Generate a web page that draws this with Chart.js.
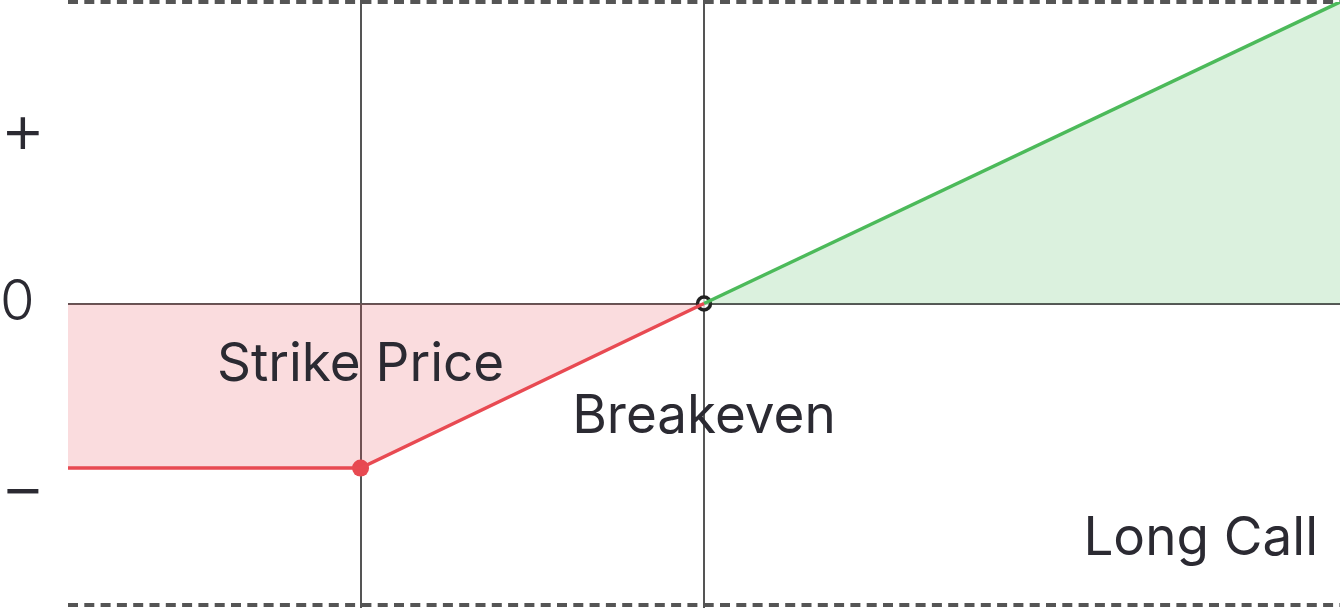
<!DOCTYPE html>
<html>
<head>
<meta charset="utf-8">
<script src="https://cdn.jsdelivr.net/npm/chart.js@4"></script>
<style>
  body { margin: 0; background: #fff; }
  #wrap { width: 1340px; height: 608px; }
</style>
</head>
<body>
<div id="wrap"><canvas id="payoff"></canvas></div>
<script>
// long call payoff, price on x (0..100), profit/loss on y (-1..1)
const strikePrice = 23;
const breakeven = 50;
const lossX = [0, 23, 50];
const lossY = [-0.546, -0.546, 0];
const gainX = [50, 100];
const gainY = [0, 1];
const yTickValues = [0.57, 0, -0.62];
const yTickLabels = ['+', '0', '\u2212'];
const labelStrike = 'Strike Price';
const labelBreakeven = 'Breakeven';
const labelTitle = 'Long Call';

const FONT = 'Inter, "Open Sans", sans-serif';
const TEXT = '#2b2a32';
const GRID = '#555';

const toPoints = (xs, ys) => xs.map((x, i) => ({ x: x, y: ys[i] }));

const noPad = s => { s.paddingTop = 0; s.paddingBottom = 0; s.paddingLeft = 0; s.paddingRight = 0; };

// vertical lines at strike / breakeven, above the fills but under the markers
const guideLines = {
  id: 'guideLines',
  beforeDatasetDraw(chart, args) {
    if (args.index !== 2) return;
    const { ctx, scales } = chart;
    ctx.save();
    ctx.strokeStyle = GRID;
    ctx.lineWidth = 2;
    [strikePrice, breakeven].forEach(v => {
      const px = Math.round(scales.x.getPixelForValue(v));
      ctx.beginPath();
      ctx.moveTo(px, 0);
      ctx.lineTo(px, chart.height);
      ctx.stroke();
    });
    ctx.restore();
  },
  afterDatasetsDraw(chart) {
    const { ctx, chartArea, scales } = chart;
    const zeroY = scales.y.getPixelForValue(0);
    ctx.save();
    ctx.fillStyle = TEXT;
    ctx.font = '53px ' + FONT;
    ctx.textBaseline = 'alphabetic';
    ctx.textAlign = 'center';
    ctx.fillText(labelStrike, scales.x.getPixelForValue(strikePrice), zeroY + 77);
    ctx.fillText(labelBreakeven, scales.x.getPixelForValue(breakeven), zeroY + 129);
    ctx.textAlign = 'right';
    ctx.fillText(labelTitle, chartArea.right - 22, chartArea.bottom - 50);
    ctx.restore();
  }
};

new Chart(document.getElementById('payoff'), {
  type: 'scatter',
  data: {
    datasets: [
      {
        data: toPoints(lossX, lossY),
        showLine: true,
        borderColor: '#e84a52',
        borderWidth: 3.5,
        backgroundColor: 'rgba(230,70,80,0.19)',
        fill: 'origin',
        pointRadius: 0
      },
      {
        data: toPoints(gainX, gainY),
        showLine: true,
        borderColor: '#4cba5a',
        borderWidth: 3.5,
        backgroundColor: 'rgba(76,186,90,0.2)',
        fill: 'origin',
        pointRadius: 0
      },
      {
        data: [
          { x: strikePrice, y: lossY[1] },
          { x: breakeven, y: 0 }
        ],
        showLine: false,
        pointRadius: [8.5, 6.5],
        pointBorderWidth: [0, 3.5],
        pointBackgroundColor: ['#e84a52', 'rgba(255,255,255,0.75)'],
        pointBorderColor: ['#e84a52', '#222']
      }
    ]
  },
  options: {
    responsive: true,
    maintainAspectRatio: false,
    animation: false,
    layout: { autoPadding: false, padding: { top: 2, bottom: 3, left: 0, right: 0 } },
    plugins: {
      legend: { display: false },
      tooltip: { enabled: false }
    },
    scales: {
      x: {
        type: 'linear',
        display: false,
        min: 0,
        max: 100
      },
      y: {
        min: -1,
        max: 1,
        afterBuildTicks: s => { s.ticks = yTickValues.map(v => ({ value: v })); },
        afterFit: s => { s.width = 68; noPad(s); },
        ticks: {
          crossAlign: 'far',
          padding: 0,
          color: TEXT,
          font: c => ({ family: FONT, size: c.tick && c.tick.value === 0 ? 56 : 70, weight: 300 }),
          callback: (v) => yTickLabels[yTickValues.indexOf(v)]
        },
        grid: {
          drawTicks: false,
          color: c => (c.tick && c.tick.value === 0 ? GRID : 'rgba(0,0,0,0)'),
          lineWidth: 2
        },
        border: { display: false }
      },
      yEdge: {
        position: 'right',
        min: -1,
        max: 1,
        afterBuildTicks: s => { s.ticks = [{ value: s.max }, { value: s.min }]; },
        afterFit: s => { s.width = 0; noPad(s); },
        ticks: { display: false },
        grid: { drawTicks: false, color: GRID, lineWidth: 4 },
        border: { display: false, dash: [10, 6.3] }
      }
    }
  },
  plugins: [guideLines]
});
</script>
</body>
</html>
